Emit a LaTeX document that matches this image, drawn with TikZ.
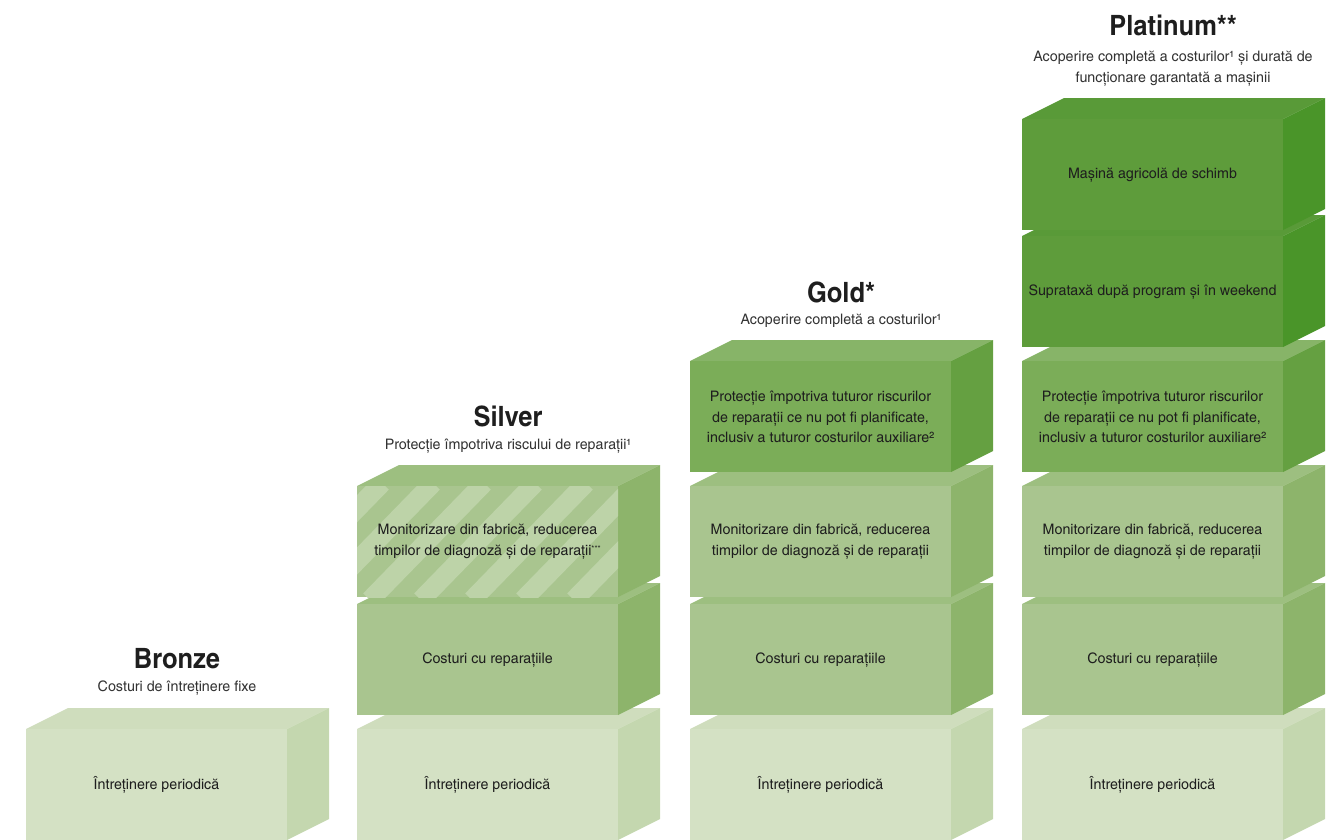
\documentclass[tikz,border=0pt]{standalone}
\usepackage{fontspec}
\setmainfont{texgyreheroscn}[Extension=.otf, UprightFont=*-regular, BoldFont=*-bold, UprightFeatures={FakeStretch=1.2}, BoldFeatures={FakeStretch=1.11}]
\definecolor{aF}{HTML}{D4E1C4}\definecolor{aT}{HTML}{CFDDBD}\definecolor{aS}{HTML}{C4D7AF}
\definecolor{bF}{HTML}{A9C58F}\definecolor{bT}{HTML}{9DBF80}\definecolor{bS}{HTML}{8DB46B}
\definecolor{cF}{HTML}{7BAD58}\definecolor{cT}{HTML}{87B468}\definecolor{cS}{HTML}{65A041}
\definecolor{dF}{HTML}{5E9C3B}\definecolor{dT}{HTML}{599A38}\definecolor{dS}{HTML}{4A9529}
\definecolor{stripe}{HTML}{BDD3A8}
\definecolor{txt}{HTML}{1E1E1E}
\definecolor{sub}{HTML}{333333}
\tikzset{
  boxtext/.style={text=txt, font=\fontsize{14.5}{20.5}\selectfont, align=center, inner sep=0pt},
  tiertitle/.style={text=txt, font=\bfseries\fontsize{28}{30}\selectfont, anchor=base, inner sep=0pt},
  tiersub/.style={text=sub, font=\fontsize{14.5}{21}\selectfont, anchor=base, align=center, inner sep=0pt},
}
% #1 x, #2 y of front top, #3 front, #4 top, #5 side, #6 name, #7 text
\newcommand{\cubeblk}[7]{%
  \fill[#4] ({#1},{#2}) -- ({#1+42},{#2-21}) -- ({#1+303},{#2-21}) -- ({#1+261},{#2}) -- cycle;
  \fill[#5] ({#1+261},{#2}) -- ({#1+303},{#2-21}) -- ({#1+303},{#2+90}) -- ({#1+261},{#2+111}) -- cycle;
  \fill[#3] ({#1},{#2}) rectangle ({#1+261},{#2+111});
  \node[boxtext] (#6) at ({#1+130.5},{#2+56}) {#7};
}
\begin{document}
\begin{tikzpicture}[x=1pt,y=-1pt]
\useasboundingbox (0,0) rectangle (1331,839);
% Bronze
\cubeblk{26}{729}{aF}{aT}{aS}{bzA}{Întreținere periodică}
\node[tiertitle] (bzT) at (177,668) {Bronze};
\node[tiersub] (bzS) at (177,691) {Costuri de întreținere fixe};
% Silver
\cubeblk{357}{729}{aF}{aT}{aS}{svA}{Întreținere periodică}
\cubeblk{357}{604}{bF}{bT}{bS}{svB}{Costuri cu reparațiile}
\fill[bT] (357,486) -- (399,465) -- (660,465) -- (618,486) -- cycle;
\fill[bS] (618,486) -- (660,465) -- (660,576) -- (618,597) -- cycle;
\fill[bF] (357,486) rectangle (618,597);
\begin{scope}
\clip (357,486) rectangle (618,597);
\foreach \k in {-3,...,6} {
  \draw[stripe, line width=19pt] ({370+51*\k},600) -- ({370+51*\k+114},483);
}
\end{scope}
\node[boxtext] (svC) at (487.5,542) {Monitorizare din fabrică, reducerea\\timpilor de diagnoză și de reparații{\fontsize{8}{8}\selectfont\raisebox{4pt}{***}}};
\node[tiertitle] (svT) at (508,426) {Silver};
\node[tiersub] (svS) at (508,449) {Protecție împotriva riscului de reparații¹};
% Gold
\cubeblk{690}{729}{aF}{aT}{aS}{gdA}{Întreținere periodică}
\cubeblk{690}{604}{bF}{bT}{bS}{gdB}{Costuri cu reparațiile}
\cubeblk{690}{486}{bF}{bT}{bS}{gdC}{Monitorizare din fabrică, reducerea\\timpilor de diagnoză și de reparații}
\cubeblk{690}{361}{cF}{cT}{cS}{gdD}{Protecție împotriva tuturor riscurilor\\de reparații ce nu pot fi planificate,\\inclusiv a tuturor costurilor auxiliare²}
\node[tiertitle] (gdT) at (841,302) {Gold*};
\node[tiersub] (gdS) at (841,324) {Acoperire completă a costurilor¹};
% Platinum
\cubeblk{1022}{729}{aF}{aT}{aS}{ptA}{Întreținere periodică}
\cubeblk{1022}{604}{bF}{bT}{bS}{ptB}{Costuri cu reparațiile}
\cubeblk{1022}{486}{bF}{bT}{bS}{ptC}{Monitorizare din fabrică, reducerea\\timpilor de diagnoză și de reparații}
\cubeblk{1022}{361}{cF}{cT}{cS}{ptD}{Protecție împotriva tuturor riscurilor\\de reparații ce nu pot fi planificate,\\inclusiv a tuturor costurilor auxiliare²}
\cubeblk{1022}{236}{dF}{dT}{dS}{ptE}{Suprataxă după program și în weekend}
\cubeblk{1022}{119}{dF}{dT}{dS}{ptF}{Mașină agricolă de schimb}
\node[tiertitle] (ptT) at (1173,35) {Platinum**};
\node[tiersub] (ptS) at (1173,82) {Acoperire completă a costurilor¹ și durată de\\funcționare garantată a mașinii};
\end{tikzpicture}
\end{document}
